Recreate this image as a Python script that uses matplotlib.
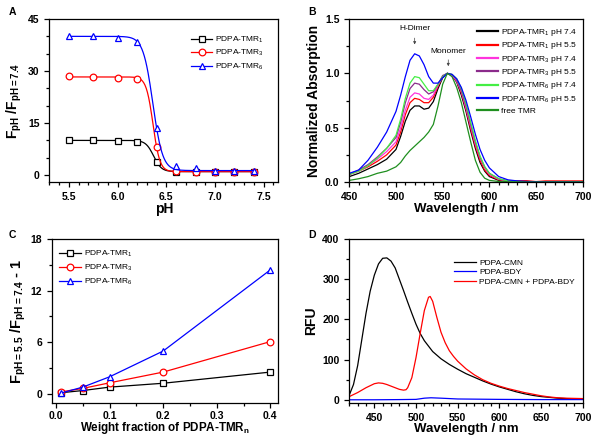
import numpy as np
import matplotlib
matplotlib.use("Agg")
import matplotlib.pyplot as plt
from matplotlib.ticker import MultipleLocator

plt.rcParams['font.family'] = ['Liberation Sans', 'DejaVu Sans']
plt.rcParams['mathtext.default'] = 'regular'

# ---------------- Panel A data ----------------
ph = [5.5, 5.75, 6.0, 6.2, 6.4, 6.6, 6.8, 7.0, 7.2, 7.4]
a_tmr1 = [10.1, 10.0, 9.8, 9.6, 3.8, 1.0, 0.9, 1.0, 1.0, 1.0]
a_tmr3 = [28.5, 28.3, 28.1, 27.7, 8.2, 1.2, 1.0, 1.0, 1.0, 1.0]
a_tmr6 = [40.0, 40.0, 39.5, 38.5, 13.7, 2.6, 2.0, 1.2, 1.1, 1.1]
# Boltzmann fit parameters: (top, bottom, pH50, width)
fit_tmr1 = (10.0, 1.0, 6.37, 0.04)
fit_tmr3 = (28.3, 1.0, 6.364, 0.035)
fit_tmr6 = (40.0, 1.3, 6.3625, 0.05)

# ---------------- Panel B data ----------------
wl_b = [450, 460, 470, 480, 490, 500, 505, 510, 515, 520, 525, 530, 535, 540, 545,
        550, 555, 560, 565, 570, 575, 580, 585, 590, 595, 600, 610, 620, 630, 640,
        650, 660, 680, 700]
b_tmr1_74 = [0.05, 0.08, 0.12, 0.16, 0.21, 0.30, 0.42, 0.56, 0.66, 0.70, 0.70, 0.67, 0.68, 0.74, 0.86,
             0.96, 1.00, 0.98, 0.92, 0.80, 0.65, 0.47, 0.31, 0.18, 0.10, 0.05, 0.015, 0.005, 0.003, 0.002,
             0.001, 0.001, 0.0, 0.0]
b_tmr1_55 = [0.07, 0.10, 0.14, 0.19, 0.25, 0.34, 0.46, 0.62, 0.73, 0.77, 0.76, 0.73, 0.73, 0.78, 0.88,
             0.97, 1.00, 0.98, 0.93, 0.82, 0.67, 0.49, 0.33, 0.20, 0.11, 0.06, 0.02, 0.01, 0.012, 0.012,
             0.004, 0.01, 0.01, 0.01]
b_tmr3_74 = [0.07, 0.10, 0.15, 0.21, 0.28, 0.37, 0.50, 0.66, 0.78, 0.82, 0.81, 0.77, 0.76, 0.80, 0.89,
             0.97, 1.00, 0.98, 0.93, 0.83, 0.68, 0.51, 0.35, 0.22, 0.13, 0.07, 0.025, 0.01, 0.005, 0.003,
             0.002, 0.001, 0.0, 0.0]
b_tmr3_55 = [0.07, 0.11, 0.16, 0.23, 0.31, 0.41, 0.55, 0.73, 0.86, 0.91, 0.90, 0.85, 0.81, 0.83, 0.90,
             0.98, 1.00, 0.99, 0.94, 0.84, 0.70, 0.53, 0.37, 0.23, 0.14, 0.08, 0.03, 0.01, 0.005, 0.003,
             0.002, 0.001, 0.0, 0.0]
b_tmr6_74 = [0.07, 0.10, 0.15, 0.22, 0.31, 0.43, 0.58, 0.77, 0.91, 0.97, 0.96, 0.90, 0.84, 0.84, 0.90,
             0.97, 1.00, 0.99, 0.95, 0.86, 0.72, 0.55, 0.38, 0.24, 0.14, 0.08, 0.03, 0.01, 0.005, 0.003,
             0.002, 0.001, 0.0, 0.0]
b_tmr6_55 = [0.08, 0.11, 0.20, 0.32, 0.46, 0.65, 0.80, 0.97, 1.12, 1.18, 1.16, 1.08, 0.97, 0.91, 0.91,
             0.96, 1.00, 0.99, 0.95, 0.87, 0.75, 0.60, 0.44, 0.30, 0.20, 0.13, 0.05, 0.02, 0.01, 0.005,
             0.003, 0.002, 0.001, 0.0]
b_free = [0.015, 0.03, 0.05, 0.08, 0.10, 0.14, 0.18, 0.24, 0.29, 0.33, 0.37, 0.41, 0.46, 0.53, 0.70,
          0.90, 1.00, 0.97, 0.87, 0.73, 0.55, 0.37, 0.20, 0.09, 0.035, 0.015, 0.005, 0.0, 0.0, 0.0,
          0.0, 0.0, 0.0, 0.0]
b_labels = ['PDPA-TMR$_1$ pH 7.4', 'PDPA-TMR$_1$ pH 5.5', 'PDPA-TMR$_3$ pH 7.4',
            'PDPA-TMR$_3$ pH 5.5', 'PDPA-TMR$_6$ pH 7.4', 'PDPA-TMR$_6$ pH 5.5', 'free TMR']

# ---------------- Panel C data ----------------
wfrac = [0.01, 0.05, 0.1, 0.2, 0.4]
c_tmr1 = [0.1, 0.35, 0.75, 1.2, 2.5]
c_tmr3 = [0.2, 0.6, 1.25, 2.5, 6.05]
c_tmr6 = [0.07, 0.75, 1.95, 4.95, 14.4]

# ---------------- Panel D data ----------------
wl_cmn = [420, 425, 430, 435, 440, 445, 450, 455, 460, 465, 470, 475, 480, 485, 490, 495, 500,
          505, 510, 520, 530, 540, 550, 560, 570, 580, 590, 600, 610, 620, 630, 640, 650, 660,
          670, 680, 690, 700]
d_cmn = [12, 38, 85, 150, 215, 270, 310, 338, 352, 353, 345, 328, 300, 272, 243, 215, 188,
         165, 147, 120, 102, 88, 76, 65, 56, 47, 39, 32, 26, 20, 15, 11, 8, 6,
         4, 3, 2, 1]
wl_bdy = [420, 450, 480, 500, 510, 518, 530, 550, 600, 650, 700]
d_bdy = [0, 0, 0.5, 1, 4, 5, 4, 2, 1, 0.5, 0.5]
wl_mix = [420, 430, 440, 450, 455, 460, 465, 470, 475, 480, 485, 488, 490, 495, 500, 505, 510,
          515, 517, 520, 525, 530, 535, 540, 545, 550, 560, 570, 580, 590, 600, 610, 620, 630,
          640, 650, 660, 670, 680, 700]
d_mix = [8, 18, 30, 40, 42, 41, 38, 34, 30, 26, 24, 25, 30, 55, 105, 165, 222,
         255, 257, 245, 205, 168, 142, 122, 108, 96, 77, 62, 50, 41, 34, 28, 23, 18,
         14, 10, 7, 5, 4, 3]

fig = plt.figure(figsize=(6.0, 4.37), dpi=100)
axA = fig.add_axes([0.0822, 0.5835, 0.3817, 0.373])
axB = fig.add_axes([0.5822, 0.5835, 0.389, 0.373])
axC = fig.add_axes([0.0862, 0.0778, 0.3777, 0.3753])
axD = fig.add_axes([0.5822, 0.0778, 0.389, 0.3753])

TICK_FS = 7.5
LAB_FS = 9
YLAB_FS = 10
LEG_FS = 6


def style(ax):
    for s in ax.spines.values():
        s.set_linewidth(0.9)
    ax.tick_params(which='both', direction='out', top=False, right=False, width=0.9,
                   labelsize=TICK_FS)
    ax.tick_params(which='major', length=3.5)
    ax.tick_params(which='minor', length=2)
    for lab in ax.get_xticklabels() + ax.get_yticklabels():
        lab.set_fontweight('bold')


def boltz(x, p):
    top, bot, x0, dx = p
    return bot + (top - bot) / (1 + np.exp((x - x0) / dx))


# ---------------- Panel A ----------------
xf = np.linspace(ph[0], ph[-1], 300)
mk = dict(mfc='white', ms=4.8, mew=0.9)
for y, p, c, m, lab in [(a_tmr1, fit_tmr1, 'black', 's', 'PDPA-TMR$_1$'),
                        (a_tmr3, fit_tmr3, 'red', 'o', 'PDPA-TMR$_3$'),
                        (a_tmr6, fit_tmr6, 'blue', '^', 'PDPA-TMR$_6$')]:
    axA.plot(xf, boltz(xf, p), color=c, lw=0.9)
    axA.plot(ph, y, ls='none', marker=m, mec=c, **mk)
    axA.plot([], [], color=c, lw=0.9, marker=m, mec=c, label=lab, **mk)
axA.set_xlim(5.3, 7.65)
axA.set_ylim(-2, 45)
axA.xaxis.set_major_locator(MultipleLocator(0.5))
axA.xaxis.set_minor_locator(MultipleLocator(0.1))
axA.yaxis.set_major_locator(MultipleLocator(15))
axA.yaxis.set_minor_locator(MultipleLocator(5))
axA.set_xticks([5.5, 6.0, 6.5, 7.0, 7.5])
axA.set_xlabel('pH', fontsize=LAB_FS + 1, fontweight='bold', labelpad=0.5)
axA.set_ylabel('F$_{pH}$ /F$_{pH=7.4}$', fontsize=YLAB_FS, fontweight='bold', labelpad=3)
axA.legend(loc='upper left', bbox_to_anchor=(0.62, 0.905), frameon=False, fontsize=LEG_FS,
           borderpad=0, borderaxespad=0, handlelength=2.5, handletextpad=0.3, labelspacing=0.4)
style(axA)

# ---------------- Panel B ----------------
b_colors = ['black', '#ff0000', '#ff33dd', '#8b2b8b', '#44ee44', '#0000ff', '#1f8f1f']
for y, c, lab in zip([b_tmr1_74, b_tmr1_55, b_tmr3_74, b_tmr3_55, b_tmr6_74, b_tmr6_55, b_free],
                     b_colors, b_labels):
    axB.plot(wl_b, y, color=c, lw=0.9)
    axB.plot([], [], color=c, lw=1.6, label=lab)
axB.set_xlim(450, 700)
axB.set_ylim(0, 1.5)
axB.xaxis.set_major_locator(MultipleLocator(50))
axB.xaxis.set_minor_locator(MultipleLocator(10))
axB.yaxis.set_major_locator(MultipleLocator(0.5))
axB.yaxis.set_minor_locator(MultipleLocator(0.25))
axB.yaxis.set_major_formatter(matplotlib.ticker.FormatStrFormatter('%.1f'))
axB.set_xlabel('Wavelength / nm', fontsize=LAB_FS + 0.5, fontweight='bold', labelpad=1)
axB.set_ylabel('Normalized Absorption', fontsize=YLAB_FS, fontweight='bold', labelpad=3)
axB.annotate('', xy=(520, 1.24), xytext=(520, 1.35),
             arrowprops=dict(arrowstyle='-|>', color='#444444', lw=0.5, mutation_scale=4))
axB.text(520, 1.38, 'H-Dimer', ha='center', va='bottom', fontsize=LEG_FS)
axB.annotate('', xy=(556, 1.04), xytext=(556, 1.15),
             arrowprops=dict(arrowstyle='-|>', color='#444444', lw=0.5, mutation_scale=4))
axB.text(556, 1.17, 'Monomer', ha='center', va='bottom', fontsize=LEG_FS)
axB.legend(loc='upper left', bbox_to_anchor=(0.545, 0.95), frameon=False, fontsize=LEG_FS,
           borderpad=0, borderaxespad=0, handlelength=2.6, handletextpad=0.3, labelspacing=0.28)
style(axB)

# ---------------- Panel C ----------------
for y, c, m, lab in [(c_tmr1, 'black', 's', 'PDPA-TMR$_1$'),
                     (c_tmr3, 'red', 'o', 'PDPA-TMR$_3$'),
                     (c_tmr6, 'blue', '^', 'PDPA-TMR$_6$')]:
    axC.plot(wfrac, y, color=c, lw=0.9, marker=m, mec=c, label=lab, **mk)
axC.set_xlim(-0.008, 0.415)
axC.set_ylim(-1.1, 18)
axC.xaxis.set_major_locator(MultipleLocator(0.1))
axC.xaxis.set_minor_locator(MultipleLocator(0.05))
axC.yaxis.set_major_locator(MultipleLocator(6))
axC.yaxis.set_minor_locator(MultipleLocator(3))
axC.xaxis.set_major_formatter(matplotlib.ticker.FormatStrFormatter('%.1f'))
axC.set_xlabel('Weight fraction of PDPA-TMR$_n$', fontsize=8.4, fontweight='bold', labelpad=-1)
axC.set_ylabel('F$_{pH=5.5}$ /F$_{pH=7.4}$ - 1', fontsize=10.5, fontweight='bold', labelpad=2)
axC.legend(loc='upper left', bbox_to_anchor=(0.03, 0.94), frameon=False, fontsize=LEG_FS,
           borderpad=0, borderaxespad=0, handlelength=2.7, handletextpad=0.3, labelspacing=0.45)
style(axC)
axC.tick_params(axis='x', which='major', pad=2.5)

# ---------------- Panel D ----------------
axD.plot(wl_cmn, d_cmn, color='black', lw=0.9, label='PDPA-CMN')
axD.plot(wl_bdy, d_bdy, color='blue', lw=0.9, label='PDPA-BDY')
axD.plot(wl_mix, d_mix, color='red', lw=0.9, label='PDPA-CMN + PDPA-BDY')
axD.set_xlim(420, 700)
axD.set_ylim(-8, 400)
axD.xaxis.set_major_locator(MultipleLocator(50))
axD.xaxis.set_minor_locator(MultipleLocator(10))
axD.yaxis.set_major_locator(MultipleLocator(100))
axD.yaxis.set_minor_locator(MultipleLocator(50))
axD.set_xlabel('Wavelength / nm', fontsize=LAB_FS + 0.5, fontweight='bold', labelpad=0.5)
axD.set_ylabel('RFU', fontsize=YLAB_FS, fontweight='bold', labelpad=3)
axD.legend(loc='upper left', bbox_to_anchor=(0.448, 0.88), frameon=False, fontsize=LEG_FS,
           borderpad=0, borderaxespad=0, handlelength=2.7, handletextpad=0.3, labelspacing=0.2)
style(axD)

for lbl, x, y in [('A', 0.02, 0.972), ('B', 0.52, 0.972), ('C', 0.02, 0.462), ('D', 0.52, 0.462)]:
    fig.text(x, y, lbl, fontsize=7.5, fontweight='bold', ha='center', va='center')

fig.savefig('out.png', dpi=100)
